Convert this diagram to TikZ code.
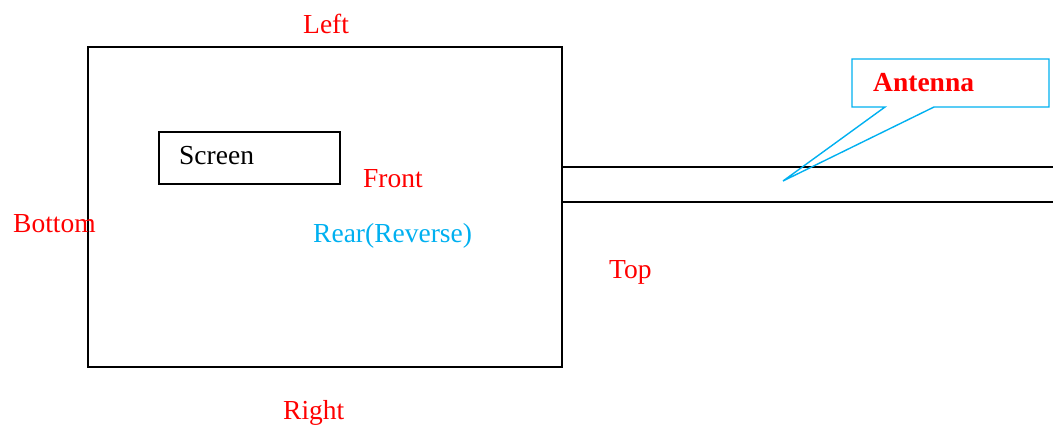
\documentclass[tikz,border=0pt]{standalone}
\usepackage{fontspec}
\setmainfont{Liberation Serif}
\definecolor{lblred}{RGB}{255,0,0}
\definecolor{lblblue}{RGB}{0,176,240}
\begin{document}
\begin{tikzpicture}[x=1pt,y=-1pt,
  lbl/.style={anchor=base west,inner sep=0pt,font=\fontsize{27.5}{32}\selectfont},
  redlbl/.style={lbl,text=lblred},
  bluelbl/.style={lbl,text=lblblue},
  edge/.style={draw=black,line width=1.4pt},
  callout/.style={draw=lblblue,line width=1.4pt,line join=miter}]
\useasboundingbox (0,0) rectangle (1053,426);
% device body
\coordinate (bodyNW) at (88,47);
\coordinate (bodySE) at (562,367);
\draw[edge] (bodyNW) rectangle (bodySE);
% screen
\coordinate (scrNW) at (159,132);
\coordinate (scrSE) at (340,184);
\draw[edge] (scrNW) rectangle (scrSE);
\node[lbl] (screen) at (179,164) {Screen};
% antenna lines
\coordinate (antA1) at (562,167);
\coordinate (antA2) at (1053,167);
\coordinate (antB1) at (562,202);
\coordinate (antB2) at (1053,202);
\draw[edge] (antA1) -- (antA2);
\draw[edge] (antB1) -- (antB2);
% labels
\node[redlbl] (left) at (303,33) {Left};
\node[redlbl] (front) at (363,187) {Front};
\node[redlbl] (bottom) at (13,232) {Bottom};
\node[bluelbl] (rear) at (313,242) {Rear(Reverse)};
\node[redlbl] (top) at (609,278) {Top};
\node[redlbl] (right) at (283,419) {Right};
% callout
\coordinate (cNW) at (852,59);
\coordinate (cNE) at (1049,59);
\coordinate (cSE) at (1049,107);
\coordinate (cP2) at (934,107);
\coordinate (cTip) at (783,181);
\coordinate (cP1) at (885,107);
\coordinate (cSW) at (852,107);
\draw[callout] (cNW) -- (cNE) -- (cSE) -- (cP2) -- (cTip) -- (cP1) -- (cSW) -- cycle;
\node[redlbl,font=\fontsize{27.5}{32}\selectfont\bfseries] (antenna) at (873,91) {Antenna};
\end{tikzpicture}
\end{document}
